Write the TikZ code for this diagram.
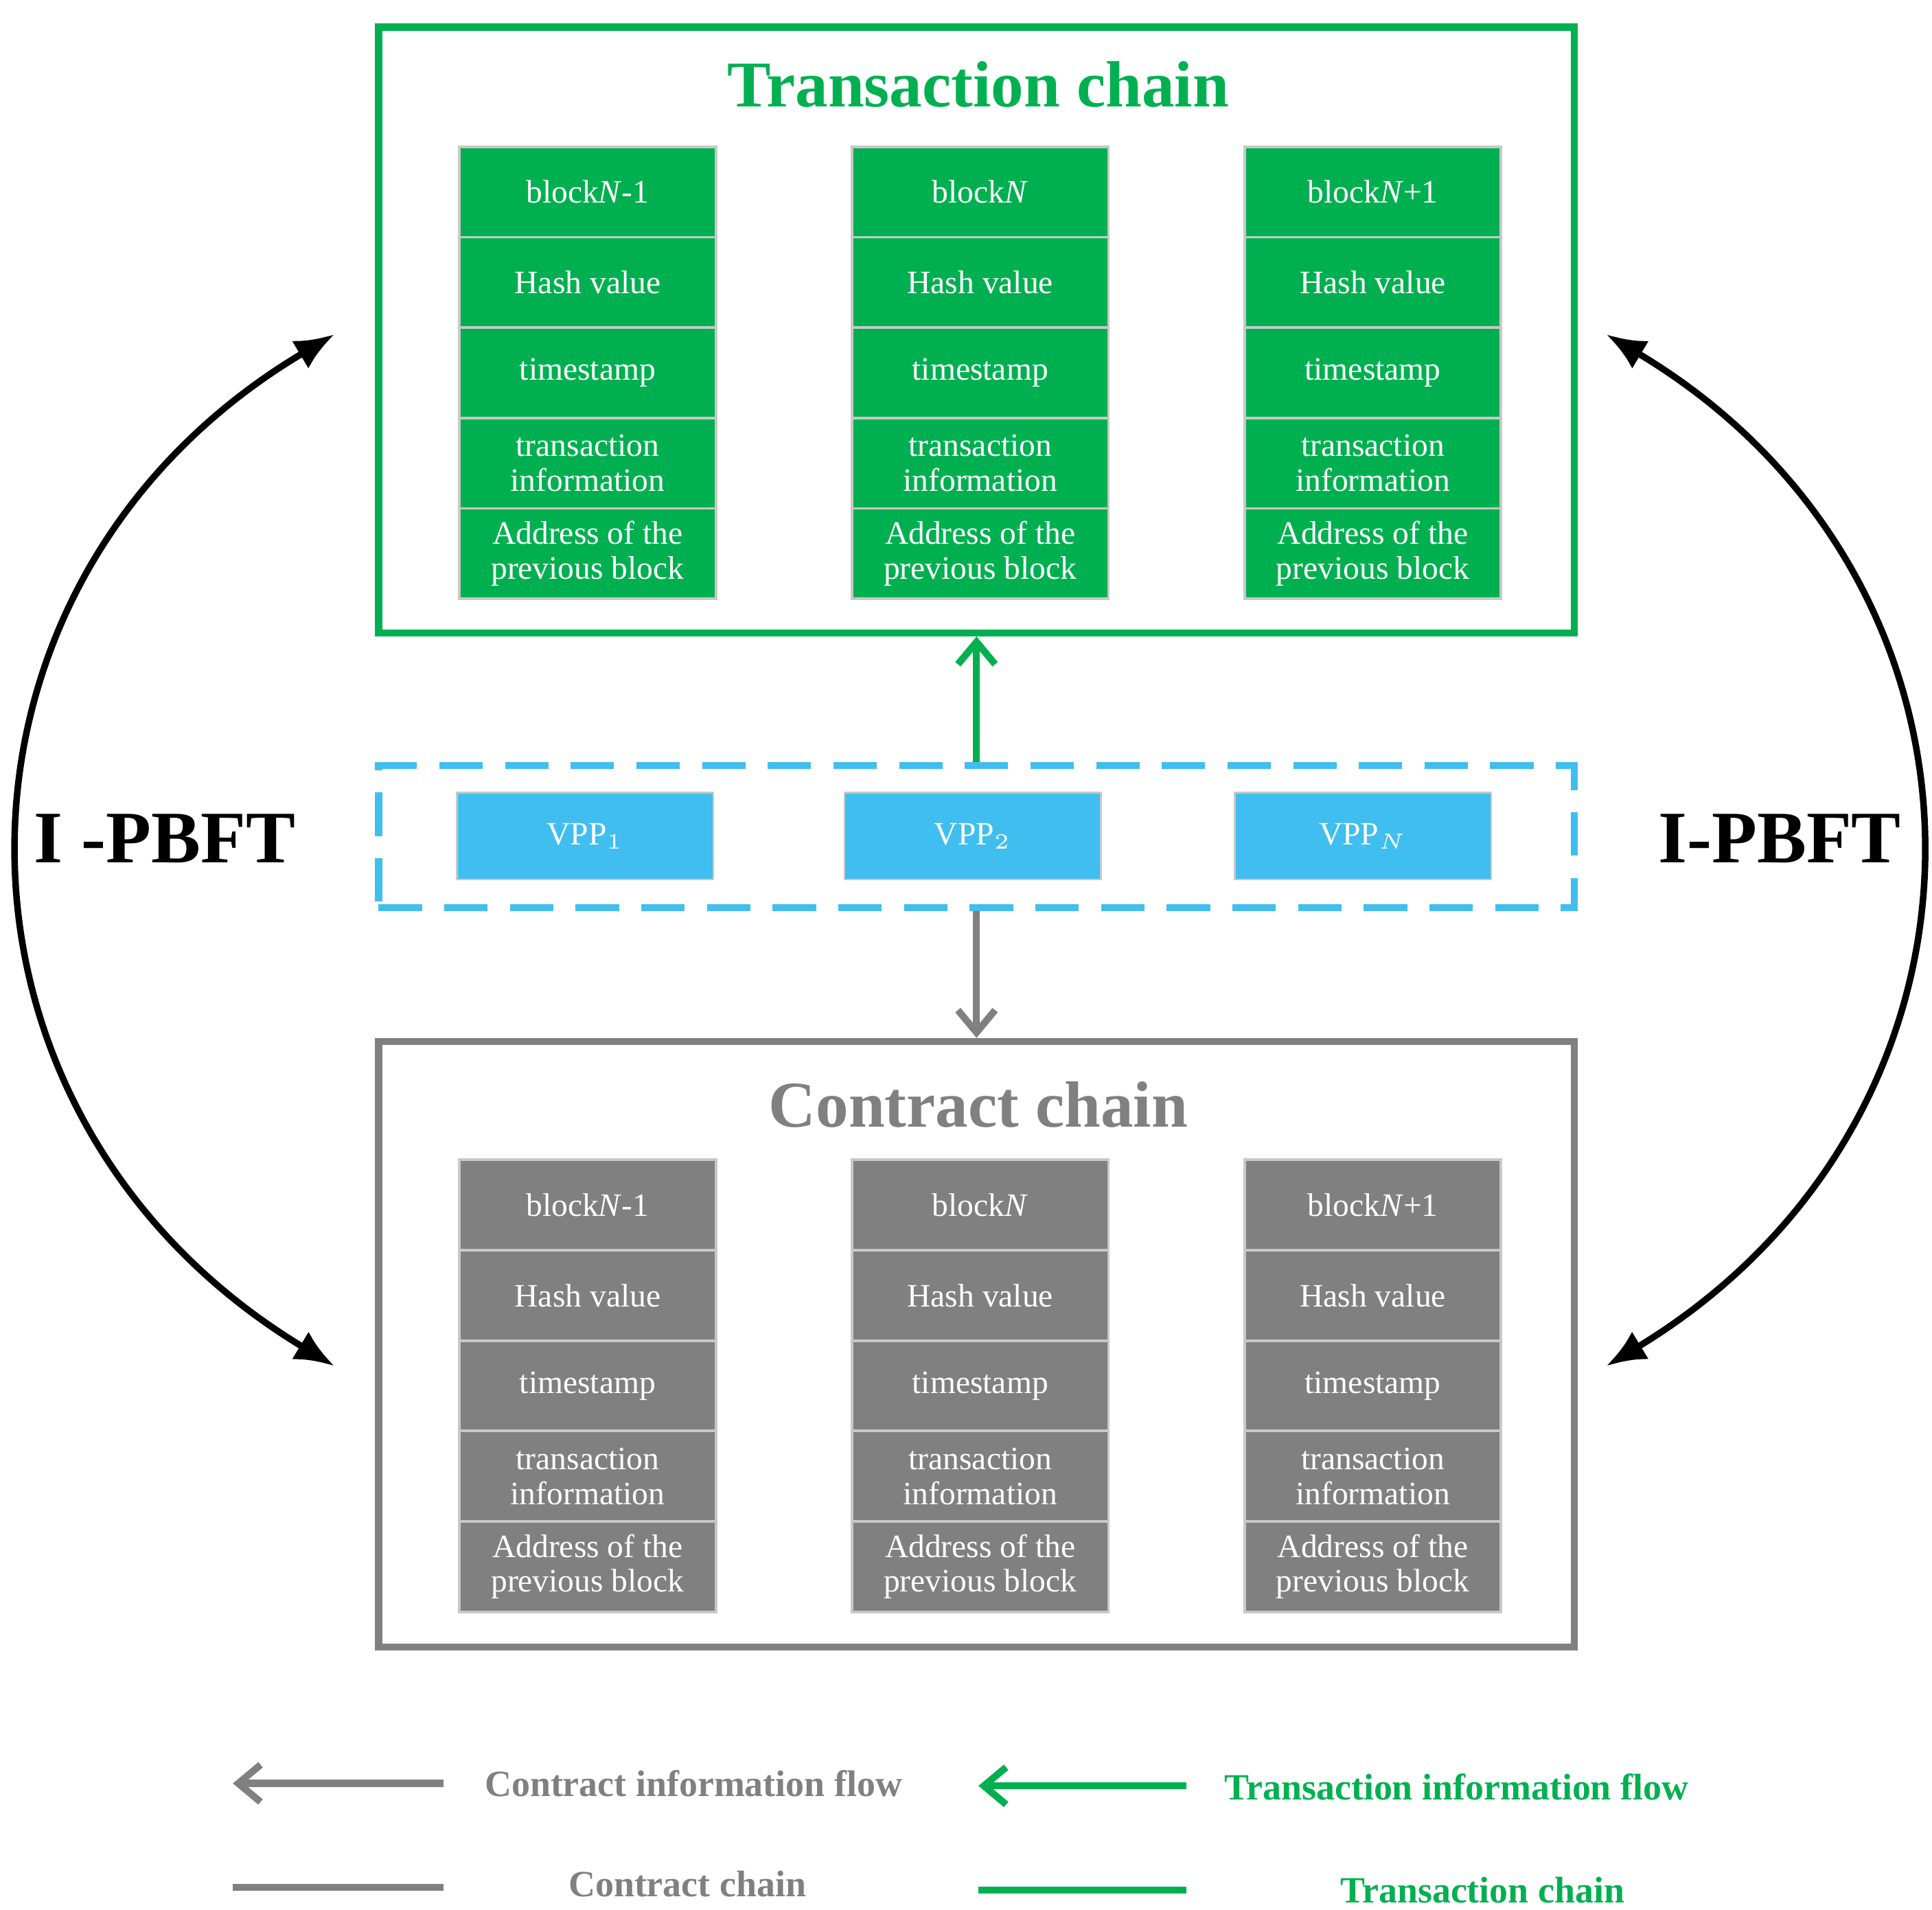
\documentclass[tikz,border=0pt]{standalone}
\usepackage{fontspec}
\setmainfont{Liberation Serif}
\usetikzlibrary{arrows.meta}
\definecolor{tgreen}{RGB}{0,176,80}
\definecolor{cgray}{RGB}{128,128,128}
\definecolor{vblue}{RGB}{64,190,240}
\definecolor{bline}{RGB}{200,200,200}
\tikzset{
  cell/.style={draw=bline,line width=0.6pt,minimum width=2.07cm,minimum height=0.73cm,
    inner sep=0pt,text=white,align=center,font=\fontsize{7.5}{10}\selectfont},
  frame/.style={line width=1.6pt},
  title/.style={font=\fontsize{15}{18}\selectfont\bfseries},
  vpp/.style={draw=bline,fill=vblue,minimum width=2.07cm,minimum height=0.7cm,text=white,
    font=\fontsize{7.5}{10}\selectfont},
  flow/.style={line width=1.6pt,-{Straight Barb[length=0.18cm,width=0.3cm]}},
  big/.style={line width=1.5pt,{Latex[length=0.32cm,width=0.26cm]}-{Latex[length=0.32cm,width=0.26cm]}},
  legend/.style={font=\fontsize{8.5}{10}\selectfont\bfseries}
}
\begin{document}
\begin{tikzpicture}[x=0.01cm,y=-0.01cm]
\useasboundingbox (0,0) rectangle (1560,1542);

% chain frames
\node[frame,draw=tgreen,minimum width=9.65cm,minimum height=4.89cm] (tbox) at (788.5,266.5) {};
\node[frame,draw=cgray,minimum width=9.65cm,minimum height=4.89cm] (cbox) at (788.5,1085.5) {};
\node[title,text=tgreen] (ttitle) at (790,68) {Transaction chain};
\node[title,text=cgray] (ctitle) at (790,892) {Contract chain};

% blocks
\foreach \c/\x/\lab in {1/474.5/block\textit{N}-1, 2/791.5/block\textit{N}, 3/1108.5/block\textit{N}+1}{
  \foreach \ch/\y/\col in {t/0/tgreen, c/818/cgray}{
    \node[cell,fill=\col] (\ch\c a) at (\x,155+\y) {\lab};
    \node[cell,fill=\col] (\ch\c b) at (\x,228+\y) {Hash value};
    \node[cell,fill=\col] (\ch\c c) at (\x,301+\y) {timestamp};
    \node[cell,fill=\col] (\ch\c d) at (\x,374+\y) {transaction\\[-2pt]information};
    \node[cell,fill=\col] (\ch\c e) at (\x,447+\y) {Address of the\\[-2pt]previous block};
  }
}

% VPP layer
\node[draw=vblue,line width=1.6pt,dash pattern=on 0.35cm off 0.18cm,minimum width=9.65cm,minimum height=1.15cm] (layer) at (788.5,675.5) {};
\node[vpp] (v1) at (472.5,675) {VPP$_1$};
\node[vpp] (v2) at (785.5,675) {VPP$_2$};
\node[vpp] (v3) at (1100.5,675) {VPP$_{N}$};

\draw[flow,tgreen] (layer.north) -- (tbox.south);
\draw[flow,cgray] (layer.south) -- (cbox.north);

% consensus arcs
\coordinate (lt) at (270,270);
\coordinate (lb) at (270,1103);
\coordinate (rt) at (1297,270);
\coordinate (rb) at (1297,1103);
\draw[big] (lt) .. controls (-66,470) and (-66,900) .. (lb);
\draw[big] (rt) .. controls (1632,470) and (1632,900) .. (rb);
\node[title,font=\fontsize{17}{20}\selectfont\bfseries] (lpbft) at (133,677) {I -PBFT};
\node[title,font=\fontsize{17}{20}\selectfont\bfseries] (rpbft) at (1437,677) {I-PBFT};

% legend
\coordinate (g1s) at (358,1440); \coordinate (g1e) at (188,1440);
\coordinate (t1s) at (958,1442); \coordinate (t1e) at (790,1442);
\coordinate (g2s) at (188,1524); \coordinate (g2e) at (358,1524);
\coordinate (t2s) at (790,1526); \coordinate (t2e) at (958,1526);
\draw[flow,cgray] (g1s) -- (g1e);
\draw[flow,tgreen] (t1s) -- (t1e);
\draw[cgray,line width=1.6pt] (g2s) -- (g2e);
\draw[tgreen,line width=1.6pt] (t2s) -- (t2e);
\node[legend,text=cgray] (lg1) at (560,1440) {Contract information flow};
\node[legend,text=tgreen] (lt1) at (1176,1443) {Transaction information flow};
\node[legend,text=cgray] (lg2) at (555,1521) {Contract chain};
\node[legend,text=tgreen] (lt2) at (1197,1526) {Transaction chain};
\end{tikzpicture}
\end{document}
